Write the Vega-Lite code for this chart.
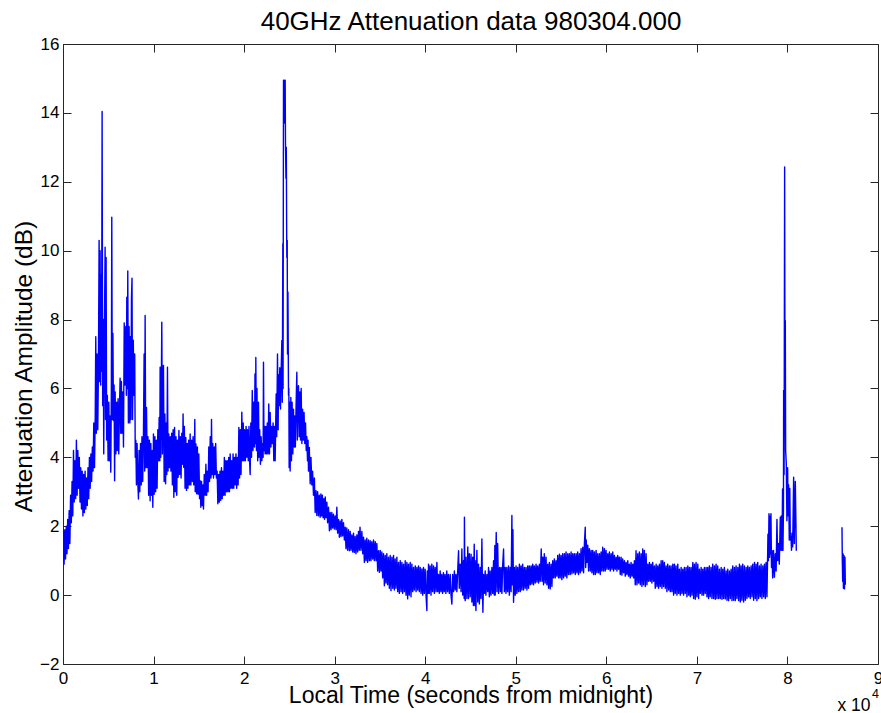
{
"$schema": "https://vega.github.io/schema/vega-lite/v6.json",
"width": 815, "height": 620,
"autosize": {"type": "none"},
"padding": {"left": 63, "top": 44, "right": 3, "bottom": 49},
"background": "white",
"config": {"view": {"stroke": null}, "font": "Liberation Sans", "axis": {"grid": false, "labelFont": "Liberation Sans", "titleFont": "Liberation Sans", "labelColor": "#000", "titleColor": "#000", "titleFontWeight": "normal", "domainColor": "#262626", "tickColor": "#262626", "labelFlush": false, "labelOverlap": false}},
"datasets": {"att": [
{"s":"a","t":0,"v":1.0},{"s":"a","t":60,"v":1.85},{"s":"a","t":120,"v":0.9},{"s":"a","t":200,"v":1.9},{"s":"a","t":280,"v":1.05},{"s":"a","t":360,"v":2.0},{"s":"a","t":440,"v":1.2},{"s":"a","t":520,"v":2.2},{"s":"a","t":600,"v":1.35},{"s":"a","t":680,"v":2.45},{"s":"a","t":760,"v":1.5},{"s":"a","t":840,"v":2.9},{"s":"a","t":920,"v":2.1},{"s":"a","t":1000,"v":3.3},{"s":"a","t":1080,"v":2.3},{"s":"a","t":1160,"v":4.2},{"s":"a","t":1240,"v":2.7},{"s":"a","t":1320,"v":3.9},{"s":"a","t":1400,"v":2.8},{"s":"a","t":1480,"v":4.5},{"s":"a","t":1560,"v":2.9},{"s":"a","t":1640,"v":4.2},{"s":"a","t":1720,"v":3.1},{"s":"a","t":1800,"v":4.0},{"s":"a","t":1880,"v":2.7},{"s":"a","t":1960,"v":3.7},{"s":"a","t":2040,"v":2.5},{"s":"a","t":2120,"v":3.6},{"s":"a","t":2200,"v":2.3},{"s":"a","t":2280,"v":3.5},{"s":"a","t":2360,"v":2.4},{"s":"a","t":2440,"v":3.6},{"s":"a","t":2520,"v":2.5},{"s":"a","t":2600,"v":3.4},{"s":"a","t":2680,"v":2.6},{"s":"a","t":2760,"v":3.7},{"s":"a","t":2840,"v":2.8},{"s":"a","t":2920,"v":4.0},{"s":"a","t":3000,"v":3.1},{"s":"a","t":3080,"v":4.1},{"s":"a","t":3160,"v":3.3},{"s":"a","t":3240,"v":4.3},{"s":"a","t":3320,"v":3.6},{"s":"a","t":3400,"v":5.0},{"s":"a","t":3480,"v":3.7},{"s":"a","t":3560,"v":5.2},{"s":"a","t":3620,"v":7.5},{"s":"a","t":3680,"v":4.7},{"s":"a","t":3760,"v":7.0},{"s":"a","t":3840,"v":4.8},{"s":"a","t":3910,"v":6.5},{"s":"a","t":3988,"v":10.3},{"s":"a","t":4050,"v":6.2},{"s":"a","t":4098,"v":10.0},{"s":"a","t":4160,"v":6.1},{"s":"a","t":4209,"v":9.3},{"s":"a","t":4260,"v":6.5},{"s":"a","t":4319,"v":14.04},{"s":"a","t":4380,"v":5.5},{"s":"a","t":4440,"v":8.0},{"s":"a","t":4500,"v":4.1},{"s":"a","t":4560,"v":7.2},{"s":"a","t":4650,"v":10.1},{"s":"a","t":4700,"v":5.1},{"s":"a","t":4761,"v":9.8},{"s":"a","t":4820,"v":4.5},{"s":"a","t":4900,"v":5.8},{"s":"a","t":4980,"v":3.9},{"s":"a","t":5060,"v":5.6},{"s":"a","t":5140,"v":3.9},{"s":"a","t":5203,"v":5.2},{"s":"a","t":5276,"v":3.57},{"s":"a","t":5340,"v":6.0},{"s":"a","t":5387,"v":10.97},{"s":"a","t":5450,"v":5.1},{"s":"a","t":5510,"v":7.6},{"s":"a","t":5571,"v":5.07},{"s":"a","t":5640,"v":6.1},{"s":"a","t":5700,"v":3.32},{"s":"a","t":5760,"v":5.9},{"s":"a","t":5840,"v":4.1},{"s":"a","t":5920,"v":5.6},{"s":"a","t":6000,"v":4.2},{"s":"a","t":6080,"v":5.7},{"s":"a","t":6160,"v":4.1},{"s":"a","t":6240,"v":5.5},{"s":"a","t":6307,"v":6.3},{"s":"a","t":6380,"v":4.7},{"s":"a","t":6450,"v":6.2},{"s":"a","t":6520,"v":4.7},{"s":"a","t":6600,"v":5.9},{"s":"a","t":6680,"v":4.3},{"s":"a","t":6760,"v":7.9},{"s":"a","t":6850,"v":6.1},{"s":"a","t":6933,"v":7.8},{"s":"a","t":7000,"v":5.8},{"s":"a","t":7044,"v":8.65},{"s":"a","t":7100,"v":6.0},{"s":"a","t":7154,"v":9.41},{"s":"a","t":7220,"v":5.0},{"s":"a","t":7300,"v":7.8},{"s":"a","t":7380,"v":5.0},{"s":"a","t":7450,"v":7.5},{"s":"a","t":7500,"v":5.1},{"s":"a","t":7560,"v":8.6},{"s":"a","t":7620,"v":9.2},{"s":"a","t":7680,"v":5.1},{"s":"a","t":7760,"v":7.4},{"s":"a","t":7840,"v":5.8},{"s":"a","t":7920,"v":7.0},{"s":"a","t":7980,"v":4.0},{"s":"a","t":8040,"v":4.5},{"s":"a","t":8110,"v":3.2},{"s":"a","t":8180,"v":4.4},{"s":"a","t":8260,"v":3.3},{"s":"a","t":8333,"v":2.79},{"s":"a","t":8400,"v":4.2},{"s":"a","t":8480,"v":3.0},{"s":"a","t":8560,"v":4.4},{"s":"a","t":8640,"v":3.2},{"s":"a","t":8720,"v":4.6},{"s":"a","t":8800,"v":3.3},{"s":"a","t":8880,"v":4.5},{"s":"a","t":8958,"v":7.0},{"s":"a","t":9020,"v":3.6},{"s":"a","t":9069,"v":8.12},{"s":"a","t":9140,"v":3.7},{"s":"a","t":9220,"v":5.45},{"s":"a","t":9300,"v":3.7},{"s":"a","t":9380,"v":4.6},{"s":"a","t":9460,"v":2.9},{"s":"a","t":9540,"v":4.5},{"s":"a","t":9620,"v":2.74},{"s":"a","t":9700,"v":4.4},{"s":"a","t":9780,"v":2.9},{"s":"a","t":9860,"v":4.2},{"s":"a","t":9916,"v":2.55},{"s":"a","t":9990,"v":4.68},{"s":"a","t":10070,"v":2.93},{"s":"a","t":10150,"v":4.6},{"s":"a","t":10230,"v":3.0},{"s":"a","t":10310,"v":4.5},{"s":"a","t":10390,"v":3.1},{"s":"a","t":10470,"v":4.8},{"s":"a","t":10542,"v":3.9},{"s":"a","t":10620,"v":5.16},{"s":"a","t":10690,"v":3.9},{"s":"a","t":10726,"v":6.62},{"s":"a","t":10800,"v":4.0},{"s":"a","t":10910,"v":7.92},{"s":"a","t":10980,"v":4.1},{"s":"a","t":11094,"v":6.67},{"s":"a","t":11170,"v":3.3},{"s":"a","t":11250,"v":5.26},{"s":"a","t":11330,"v":3.23},{"s":"a","t":11400,"v":5.0},{"s":"a","t":11460,"v":3.5},{"s":"a","t":11536,"v":6.62},{"s":"a","t":11600,"v":3.6},{"s":"a","t":11680,"v":4.68},{"s":"a","t":11760,"v":3.7},{"s":"a","t":11840,"v":4.6},{"s":"a","t":11920,"v":3.6},{"s":"a","t":12000,"v":4.7},{"s":"a","t":12080,"v":3.2},{"s":"a","t":12160,"v":4.8},{"s":"a","t":12240,"v":2.84},{"s":"a","t":12320,"v":4.87},{"s":"a","t":12400,"v":3.0},{"s":"a","t":12480,"v":4.6},{"s":"a","t":12560,"v":2.9},{"s":"a","t":12640,"v":4.5},{"s":"a","t":12720,"v":3.42},{"s":"a","t":12800,"v":4.78},{"s":"a","t":12880,"v":3.5},{"s":"a","t":12960,"v":4.6},{"s":"a","t":13040,"v":3.4},{"s":"a","t":13120,"v":4.7},{"s":"a","t":13200,"v":3.8},{"s":"a","t":13260,"v":5.26},{"s":"a","t":13330,"v":3.71},{"s":"a","t":13400,"v":4.9},{"s":"a","t":13480,"v":3.1},{"s":"a","t":13560,"v":4.58},{"s":"a","t":13640,"v":3.04},{"s":"a","t":13720,"v":4.4},{"s":"a","t":13800,"v":3.1},{"s":"a","t":13880,"v":4.5},{"s":"a","t":13960,"v":3.2},{"s":"a","t":14040,"v":4.68},{"s":"a","t":14120,"v":3.2},{"s":"a","t":14200,"v":4.5},{"s":"a","t":14280,"v":3.3},{"s":"a","t":14360,"v":4.6},{"s":"a","t":14440,"v":3.2},{"s":"a","t":14520,"v":4.4},{"s":"a","t":14555,"v":5.1},{"s":"a","t":14600,"v":3.0},{"s":"a","t":14680,"v":4.39},{"s":"a","t":14760,"v":2.94},{"s":"a","t":14840,"v":4.3},{"s":"a","t":14920,"v":2.93},{"s":"a","t":15000,"v":4.1},{"s":"a","t":15080,"v":2.8},{"s":"a","t":15145,"v":3.32},{"s":"a","t":15220,"v":2.55},{"s":"a","t":15300,"v":3.3},{"s":"a","t":15380,"v":2.6},{"s":"a","t":15460,"v":3.2},{"s":"a","t":15513,"v":2.5},{"s":"a","t":15600,"v":3.5},{"s":"a","t":15700,"v":2.9},{"s":"a","t":15780,"v":3.8},{"s":"a","t":15860,"v":2.9},{"s":"a","t":15940,"v":3.6},{"s":"a","t":16020,"v":3.0},{"s":"a","t":16100,"v":4.3},{"s":"a","t":16180,"v":3.3},{"s":"a","t":16260,"v":4.6},{"s":"a","t":16340,"v":3.4},{"s":"a","t":16400,"v":5.1},{"s":"a","t":16460,"v":3.5},{"s":"a","t":16540,"v":4.4},{"s":"a","t":16620,"v":3.4},{"s":"a","t":16700,"v":4.3},{"s":"a","t":16780,"v":3.5},{"s":"a","t":16860,"v":4.4},{"s":"a","t":16940,"v":3.4},{"s":"a","t":17020,"v":3.6},{"s":"a","t":17100,"v":2.65},{"s":"a","t":17180,"v":3.5},{"s":"a","t":17260,"v":2.7},{"s":"a","t":17340,"v":3.6},{"s":"a","t":17420,"v":2.75},{"s":"a","t":17500,"v":3.7},{"s":"a","t":17580,"v":2.8},{"s":"a","t":17660,"v":3.6},{"s":"a","t":17740,"v":2.9},{"s":"a","t":17820,"v":4.0},{"s":"a","t":17900,"v":2.9},{"s":"a","t":17980,"v":3.9},{"s":"a","t":18060,"v":3.0},{"s":"a","t":18140,"v":3.9},{"s":"a","t":18220,"v":3.0},{"s":"a","t":18300,"v":4.0},{"s":"a","t":18380,"v":3.0},{"s":"a","t":18460,"v":4.1},{"s":"a","t":18540,"v":3.1},{"s":"a","t":18620,"v":3.9},{"s":"a","t":18700,"v":3.1},{"s":"a","t":18780,"v":4.1},{"s":"a","t":18860,"v":3.1},{"s":"a","t":18940,"v":4.0},{"s":"a","t":19020,"v":3.2},{"s":"a","t":19100,"v":4.1},{"s":"a","t":19180,"v":3.1},{"s":"a","t":19260,"v":4.0},{"s":"a","t":19340,"v":3.2},{"s":"a","t":19420,"v":4.87},{"s":"a","t":19500,"v":3.4},{"s":"a","t":19580,"v":4.8},{"s":"a","t":19660,"v":3.5},{"s":"a","t":19747,"v":5.31},{"s":"a","t":19830,"v":3.9},{"s":"a","t":19900,"v":5.0},{"s":"a","t":19980,"v":3.9},{"s":"a","t":20060,"v":4.8},{"s":"a","t":20140,"v":3.9},{"s":"a","t":20220,"v":4.9},{"s":"a","t":20300,"v":4.0},{"s":"a","t":20380,"v":4.8},{"s":"a","t":20460,"v":3.9},{"s":"a","t":20540,"v":4.9},{"s":"a","t":20620,"v":3.8},{"s":"a","t":20668,"v":3.5},{"s":"a","t":20740,"v":5.0},{"s":"a","t":20820,"v":4.0},{"s":"a","t":20900,"v":5.94},{"s":"a","t":20980,"v":4.2},{"s":"a","t":21060,"v":5.6},{"s":"a","t":21146,"v":4.3},{"s":"a","t":21200,"v":6.42},{"s":"a","t":21260,"v":4.4},{"s":"a","t":21293,"v":6.9},{"s":"a","t":21360,"v":4.2},{"s":"a","t":21420,"v":6.0},{"s":"a","t":21500,"v":3.9},{"s":"a","t":21588,"v":5.6},{"s":"a","t":21650,"v":4.0},{"s":"a","t":21720,"v":4.8},{"s":"a","t":21800,"v":3.8},{"s":"a","t":21880,"v":4.6},{"s":"a","t":21960,"v":3.9},{"s":"a","t":22040,"v":4.4},{"s":"a","t":22100,"v":4.0},{"s":"a","t":22140,"v":6.76},{"s":"a","t":22200,"v":4.2},{"s":"a","t":22260,"v":4.9},{"s":"a","t":22320,"v":4.1},{"s":"a","t":22400,"v":4.9},{"s":"a","t":22480,"v":4.1},{"s":"a","t":22560,"v":5.0},{"s":"a","t":22640,"v":4.1},{"s":"a","t":22720,"v":5.55},{"s":"a","t":22800,"v":4.1},{"s":"a","t":22877,"v":5.3},{"s":"a","t":22960,"v":4.3},{"s":"a","t":23040,"v":4.9},{"s":"a","t":23120,"v":4.4},{"s":"a","t":23200,"v":5.0},{"s":"a","t":23280,"v":3.9},{"s":"a","t":23360,"v":4.9},{"s":"a","t":23429,"v":3.9},{"s":"a","t":23540,"v":5.84},{"s":"a","t":23600,"v":4.6},{"s":"a","t":23687,"v":7.0},{"s":"a","t":23760,"v":4.8},{"s":"a","t":23797,"v":6.4},{"s":"a","t":23860,"v":5.5},{"s":"a","t":23940,"v":6.6},{"s":"a","t":24020,"v":5.4},{"s":"a","t":24100,"v":6.6},{"s":"a","t":24166,"v":7.39},{"s":"a","t":24220,"v":5.6},{"s":"a","t":24276,"v":10.2},{"s":"a","t":24300,"v":6.0},{"s":"a","t":24350,"v":14.95},{"s":"a","t":24400,"v":13.8},{"s":"a","t":24450,"v":14.95},{"s":"a","t":24500,"v":13.7},{"s":"a","t":24534,"v":14.95},{"s":"a","t":24570,"v":13.1},{"s":"a","t":24620,"v":12.1},{"s":"a","t":24660,"v":13.0},{"s":"a","t":24700,"v":10.5},{"s":"a","t":24718,"v":9.8},{"s":"a","t":24760,"v":10.3},{"s":"a","t":24792,"v":7.0},{"s":"a","t":24840,"v":8.8},{"s":"a","t":24902,"v":5.8},{"s":"a","t":24940,"v":6.0},{"s":"a","t":24976,"v":3.7},{"s":"a","t":25030,"v":5.6},{"s":"a","t":25085,"v":3.6},{"s":"a","t":25160,"v":5.74},{"s":"a","t":25230,"v":3.9},{"s":"a","t":25300,"v":5.6},{"s":"a","t":25380,"v":4.1},{"s":"a","t":25454,"v":5.4},{"s":"a","t":25530,"v":4.3},{"s":"a","t":25600,"v":5.2},{"s":"a","t":25660,"v":4.3},{"s":"a","t":25740,"v":5.5},{"s":"a","t":25822,"v":6.47},{"s":"a","t":25880,"v":4.5},{"s":"a","t":25940,"v":5.9},{"s":"a","t":26005,"v":6.08},{"s":"a","t":26080,"v":4.6},{"s":"a","t":26160,"v":5.9},{"s":"a","t":26230,"v":4.5},{"s":"a","t":26300,"v":6.0},{"s":"a","t":26380,"v":4.4},{"s":"a","t":26460,"v":5.4},{"s":"a","t":26540,"v":4.5},{"s":"a","t":26620,"v":5.3},{"s":"a","t":26700,"v":4.4},{"s":"a","t":26780,"v":5.0},{"s":"a","t":26860,"v":4.2},{"s":"a","t":26927,"v":4.6},{"s":"a","t":27000,"v":3.9},{"s":"a","t":27060,"v":4.5},{"s":"a","t":27111,"v":3.6},{"s":"a","t":27200,"v":4.29},{"s":"a","t":27295,"v":3.23},{"s":"a","t":27380,"v":4.0},{"s":"a","t":27479,"v":3.2},{"s":"a","t":27560,"v":3.6},{"s":"a","t":27663,"v":2.9},{"s":"a","t":27760,"v":3.4},{"s":"a","t":27847,"v":2.4},{"s":"a","t":27940,"v":3.03},{"s":"a","t":28032,"v":2.31},{"s":"a","t":28120,"v":3.0},{"s":"a","t":28215,"v":2.3},{"s":"a","t":28300,"v":2.9},{"s":"a","t":28400,"v":2.26},{"s":"a","t":28480,"v":2.94},{"s":"a","t":28560,"v":2.3},{"s":"a","t":28640,"v":2.9},{"s":"a","t":28720,"v":2.25},{"s":"a","t":28800,"v":2.8},{"s":"a","t":28880,"v":2.2},{"s":"a","t":28960,"v":2.85},{"s":"a","t":29040,"v":2.25},{"s":"a","t":29136,"v":2.7},{"s":"a","t":29220,"v":2.1},{"s":"a","t":29320,"v":2.55},{"s":"a","t":29420,"v":1.87},{"s":"a","t":29505,"v":2.4},{"s":"a","t":29600,"v":1.9},{"s":"a","t":29689,"v":2.4},{"s":"a","t":29780,"v":1.95},{"s":"a","t":29870,"v":2.35},{"s":"a","t":29960,"v":1.92},{"s":"a","t":30057,"v":2.3},{"s":"a","t":30150,"v":1.9},{"s":"a","t":30241,"v":2.55},{"s":"a","t":30330,"v":1.8},{"s":"a","t":30425,"v":2.2},{"s":"a","t":30520,"v":1.68},{"s":"a","t":30610,"v":2.15},{"s":"a","t":30700,"v":1.7},{"s":"a","t":30793,"v":2.2},{"s":"a","t":30880,"v":1.72},{"s":"a","t":30977,"v":2.1},{"s":"a","t":31070,"v":1.6},{"s":"a","t":31162,"v":1.97},{"s":"a","t":31250,"v":1.35},{"s":"a","t":31340,"v":1.95},{"s":"a","t":31430,"v":1.3},{"s":"a","t":31530,"v":1.9},{"s":"a","t":31620,"v":1.29},{"s":"a","t":31714,"v":1.85},{"s":"a","t":31800,"v":1.3},{"s":"a","t":31898,"v":1.75},{"s":"a","t":31990,"v":1.25},{"s":"a","t":32080,"v":1.8},{"s":"a","t":32170,"v":1.24},{"s":"a","t":32260,"v":1.7},{"s":"a","t":32350,"v":1.2},{"s":"a","t":32450,"v":1.75},{"s":"a","t":32540,"v":1.25},{"s":"a","t":32634,"v":1.85},{"s":"a","t":32720,"v":1.3},{"s":"a","t":32800,"v":1.97},{"s":"a","t":32900,"v":1.3},{"s":"a","t":33003,"v":1.85},{"s":"a","t":33100,"v":1.2},{"s":"a","t":33187,"v":1.68},{"s":"a","t":33280,"v":0.95},{"s":"a","t":33370,"v":1.6},{"s":"a","t":33460,"v":1.0},{"s":"a","t":33550,"v":1.65},{"s":"a","t":33640,"v":0.95},{"s":"a","t":33739,"v":1.6},{"s":"a","t":33830,"v":1.0},{"s":"a","t":33923,"v":1.58},{"s":"a","t":34010,"v":1.0},{"s":"a","t":34100,"v":1.55},{"s":"a","t":34200,"v":1.05},{"s":"a","t":34290,"v":1.6},{"s":"a","t":34380,"v":1.0},{"s":"a","t":34480,"v":1.55},{"s":"a","t":34570,"v":1.0},{"s":"a","t":34659,"v":1.5},{"s":"a","t":34750,"v":0.7},{"s":"a","t":34844,"v":1.29},{"s":"a","t":34940,"v":0.66},{"s":"a","t":35030,"v":1.3},{"s":"a","t":35120,"v":0.7},{"s":"a","t":35212,"v":1.25},{"s":"a","t":35300,"v":0.5},{"s":"a","t":35396,"v":1.2},{"s":"a","t":35490,"v":0.27},{"s":"a","t":35580,"v":1.15},{"s":"a","t":35670,"v":0.35},{"s":"a","t":35760,"v":1.2},{"s":"a","t":35850,"v":0.3},{"s":"a","t":35948,"v":1.1},{"s":"a","t":36040,"v":0.2},{"s":"a","t":36132,"v":1.15},{"s":"a","t":36220,"v":0.13},{"s":"a","t":36320,"v":1.1},{"s":"a","t":36410,"v":0.2},{"s":"a","t":36500,"v":1.15},{"s":"a","t":36590,"v":0.15},{"s":"a","t":36680,"v":1.05},{"s":"a","t":36770,"v":0.2},{"s":"a","t":36869,"v":1.1},{"s":"a","t":36960,"v":0.1},{"s":"a","t":37053,"v":0.95},{"s":"a","t":37140,"v":0.05},{"s":"a","t":37240,"v":1.0},{"s":"a","t":37330,"v":0.1},{"s":"a","t":37420,"v":0.95},{"s":"a","t":37510,"v":0.05},{"s":"a","t":37600,"v":0.9},{"s":"a","t":37700,"v":0.1},{"s":"a","t":37789,"v":1.0},{"s":"a","t":37880,"v":0.0},{"s":"a","t":37973,"v":0.95},{"s":"a","t":38060,"v":-0.11},{"s":"a","t":38150,"v":0.9},{"s":"a","t":38240,"v":0.0},{"s":"a","t":38340,"v":0.95},{"s":"a","t":38430,"v":-0.05},{"s":"a","t":38526,"v":0.9},{"s":"a","t":38620,"v":0.1},{"s":"a","t":38710,"v":0.8},{"s":"a","t":38800,"v":0.15},{"s":"a","t":38900,"v":0.85},{"s":"a","t":38990,"v":0.1},{"s":"a","t":39080,"v":0.8},{"s":"a","t":39170,"v":0.15},{"s":"a","t":39260,"v":0.85},{"s":"a","t":39350,"v":0.1},{"s":"a","t":39446,"v":0.8},{"s":"a","t":39540,"v":0.05},{"s":"a","t":39630,"v":0.76},{"s":"a","t":39720,"v":0.0},{"s":"a","t":39810,"v":0.8},{"s":"a","t":39900,"v":0.05},{"s":"a","t":39990,"v":0.75},{"s":"a","t":40090,"v":0.0},{"s":"a","t":40182,"v":-0.45},{"s":"a","t":40220,"v":0.7},{"s":"a","t":40300,"v":0.05},{"s":"a","t":40367,"v":0.9},{"s":"a","t":40450,"v":0.05},{"s":"a","t":40540,"v":0.85},{"s":"a","t":40640,"v":0.0},{"s":"a","t":40730,"v":0.9},{"s":"a","t":40820,"v":0.1},{"s":"a","t":40920,"v":0.85},{"s":"a","t":41010,"v":0.05},{"s":"a","t":41103,"v":0.8},{"s":"a","t":41200,"v":0.1},{"s":"a","t":41287,"v":0.95},{"s":"a","t":41380,"v":0.1},{"s":"a","t":41471,"v":0.6},{"s":"a","t":41560,"v":0.05},{"s":"a","t":41650,"v":0.7},{"s":"a","t":41740,"v":0.1},{"s":"a","t":41830,"v":0.6},{"s":"a","t":41920,"v":0.05},{"s":"a","t":42010,"v":0.65},{"s":"a","t":42100,"v":0.1},{"s":"a","t":42190,"v":0.6},{"s":"a","t":42280,"v":0.05},{"s":"a","t":42380,"v":0.7},{"s":"a","t":42470,"v":0.1},{"s":"a","t":42560,"v":0.6},{"s":"a","t":42660,"v":0.05},{"s":"a","t":42760,"v":0.6},{"s":"a","t":42850,"v":0.0},{"s":"a","t":42943,"v":-0.26},{"s":"a","t":43030,"v":0.6},{"s":"a","t":43128,"v":0.1},{"s":"a","t":43220,"v":0.7},{"s":"a","t":43310,"v":0.15},{"s":"a","t":43400,"v":0.6},{"s":"a","t":43496,"v":0.1},{"s":"a","t":43600,"v":0.8},{"s":"a","t":43680,"v":1.29},{"s":"a","t":43760,"v":0.2},{"s":"a","t":43860,"v":0.9},{"s":"a","t":43960,"v":0.1},{"s":"a","t":44048,"v":1.34},{"s":"a","t":44140,"v":0.0},{"s":"a","t":44233,"v":1.0},{"s":"a","t":44300,"v":-0.1},{"s":"a","t":44330,"v":2.26},{"s":"a","t":44380,"v":0.2},{"s":"a","t":44417,"v":-0.16},{"s":"a","t":44500,"v":1.1},{"s":"a","t":44601,"v":-0.1},{"s":"a","t":44700,"v":1.4},{"s":"a","t":44780,"v":-0.1},{"s":"a","t":44870,"v":1.2},{"s":"a","t":44969,"v":-0.05},{"s":"a","t":45060,"v":1.19},{"s":"a","t":45153,"v":-0.2},{"s":"a","t":45240,"v":1.1},{"s":"a","t":45320,"v":-0.3},{"s":"a","t":45411,"v":1.48},{"s":"a","t":45480,"v":-0.3},{"s":"a","t":45521,"v":1.0},{"s":"a","t":45600,"v":-0.45},{"s":"a","t":45705,"v":1.3},{"s":"a","t":45800,"v":-0.2},{"s":"a","t":45889,"v":0.9},{"s":"a","t":45980,"v":-0.26},{"s":"a","t":46074,"v":0.8},{"s":"a","t":46160,"v":-0.1},{"s":"a","t":46258,"v":1.63},{"s":"a","t":46320,"v":0.2},{"s":"a","t":46368,"v":-0.5},{"s":"a","t":46442,"v":0.6},{"s":"a","t":46530,"v":0.05},{"s":"a","t":46620,"v":0.7},{"s":"a","t":46700,"v":0.0},{"s":"a","t":46810,"v":0.6},{"s":"a","t":46900,"v":0.1},{"s":"a","t":46994,"v":0.8},{"s":"a","t":47080,"v":-0.05},{"s":"a","t":47170,"v":0.7},{"s":"a","t":47260,"v":0.0},{"s":"a","t":47362,"v":0.8},{"s":"a","t":47450,"v":0.05},{"s":"a","t":47546,"v":1.0},{"s":"a","t":47620,"v":0.0},{"s":"a","t":47690,"v":1.44},{"s":"a","t":47730,"v":0.0},{"s":"a","t":47841,"v":1.82},{"s":"a","t":47920,"v":0.1},{"s":"a","t":48000,"v":1.5},{"s":"a","t":48099,"v":0.05},{"s":"a","t":48209,"v":0.8},{"s":"a","t":48300,"v":0.1},{"s":"a","t":48380,"v":0.8},{"s":"a","t":48467,"v":0.05},{"s":"a","t":48560,"v":0.9},{"s":"a","t":48651,"v":1.34},{"s":"a","t":48740,"v":0.1},{"s":"a","t":48835,"v":0.8},{"s":"a","t":48920,"v":0.05},{"s":"a","t":49010,"v":0.8},{"s":"a","t":49100,"v":0.1},{"s":"a","t":49200,"v":0.85},{"s":"a","t":49290,"v":0.0},{"s":"a","t":49387,"v":0.8},{"s":"a","t":49480,"v":0.1},{"s":"a","t":49571,"v":2.31},{"s":"a","t":49630,"v":0.3},{"s":"a","t":49682,"v":1.9},{"s":"a","t":49755,"v":-0.21},{"s":"a","t":49850,"v":0.8},{"s":"a","t":49940,"v":0.0},{"s":"a","t":50030,"v":0.85},{"s":"a","t":50120,"v":0.05},{"s":"a","t":50210,"v":0.8},{"s":"a","t":50308,"v":0.1},{"s":"a","t":50400,"v":0.9},{"s":"a","t":50492,"v":0.1},{"s":"a","t":50580,"v":0.85},{"s":"a","t":50670,"v":0.15},{"s":"a","t":50760,"v":0.9},{"s":"a","t":50860,"v":0.15},{"s":"a","t":50950,"v":0.8},{"s":"a","t":51045,"v":0.2},{"s":"a","t":51130,"v":0.8},{"s":"a","t":51230,"v":0.15},{"s":"a","t":51320,"v":0.85},{"s":"a","t":51413,"v":0.2},{"s":"a","t":51500,"v":0.85},{"s":"a","t":51597,"v":0.3},{"s":"a","t":51690,"v":0.85},{"s":"a","t":51780,"v":0.32},{"s":"a","t":51870,"v":0.9},{"s":"a","t":51960,"v":0.3},{"s":"a","t":52050,"v":0.85},{"s":"a","t":52149,"v":0.35},{"s":"a","t":52240,"v":0.9},{"s":"a","t":52333,"v":0.38},{"s":"a","t":52420,"v":0.85},{"s":"a","t":52520,"v":0.35},{"s":"a","t":52610,"v":0.9},{"s":"a","t":52701,"v":0.4},{"s":"a","t":52811,"v":1.34},{"s":"a","t":52900,"v":0.4},{"s":"a","t":52980,"v":1.1},{"s":"a","t":53063,"v":0.3},{"s":"a","t":53150,"v":1.2},{"s":"a","t":53250,"v":0.35},{"s":"a","t":53340,"v":1.1},{"s":"a","t":53437,"v":0.3},{"s":"a","t":53530,"v":0.9},{"s":"a","t":53621,"v":0.2},{"s":"a","t":53710,"v":0.95},{"s":"a","t":53800,"v":0.18},{"s":"a","t":53900,"v":0.9},{"s":"a","t":53990,"v":0.25},{"s":"a","t":54080,"v":1.0},{"s":"a","t":54174,"v":0.5},{"s":"a","t":54260,"v":1.05},{"s":"a","t":54360,"v":0.5},{"s":"a","t":54450,"v":1.0},{"s":"a","t":54542,"v":0.55},{"s":"a","t":54630,"v":1.15},{"s":"a","t":54726,"v":0.5},{"s":"a","t":54820,"v":1.19},{"s":"a","t":54900,"v":0.5},{"s":"a","t":55000,"v":1.15},{"s":"a","t":55090,"v":0.45},{"s":"a","t":55180,"v":1.2},{"s":"a","t":55279,"v":0.5},{"s":"a","t":55370,"v":1.2},{"s":"a","t":55463,"v":0.55},{"s":"a","t":55550,"v":1.25},{"s":"a","t":55640,"v":0.5},{"s":"a","t":55740,"v":1.2},{"s":"a","t":55831,"v":0.6},{"s":"a","t":55920,"v":1.2},{"s":"a","t":56015,"v":0.6},{"s":"a","t":56110,"v":1.25},{"s":"a","t":56200,"v":0.62},{"s":"a","t":56290,"v":1.2},{"s":"a","t":56383,"v":0.65},{"s":"a","t":56470,"v":1.2},{"s":"a","t":56567,"v":0.6},{"s":"a","t":56660,"v":1.2},{"s":"a","t":56750,"v":0.65},{"s":"a","t":56840,"v":1.25},{"s":"a","t":56930,"v":0.6},{"s":"a","t":57030,"v":1.2},{"s":"a","t":57120,"v":0.65},{"s":"a","t":57210,"v":1.35},{"s":"a","t":57304,"v":0.7},{"s":"a","t":57400,"v":1.39},{"s":"a","t":57488,"v":0.65},{"s":"a","t":57580,"v":1.5},{"s":"a","t":57672,"v":1.97},{"s":"a","t":57720,"v":0.8},{"s":"a","t":57780,"v":1.6},{"s":"a","t":57856,"v":0.95},{"s":"a","t":57950,"v":1.45},{"s":"a","t":58040,"v":0.7},{"s":"a","t":58130,"v":1.35},{"s":"a","t":58230,"v":0.7},{"s":"a","t":58320,"v":1.3},{"s":"a","t":58409,"v":0.65},{"s":"a","t":58500,"v":1.3},{"s":"a","t":58593,"v":0.6},{"s":"a","t":58680,"v":1.25},{"s":"a","t":58780,"v":0.6},{"s":"a","t":58870,"v":1.3},{"s":"a","t":58961,"v":0.65},{"s":"a","t":59050,"v":1.2},{"s":"a","t":59145,"v":0.65},{"s":"a","t":59240,"v":1.2},{"s":"a","t":59330,"v":0.6},{"s":"a","t":59420,"v":1.25},{"s":"a","t":59514,"v":0.7},{"s":"a","t":59600,"v":1.39},{"s":"a","t":59698,"v":0.7},{"s":"a","t":59790,"v":1.35},{"s":"a","t":59880,"v":0.7},{"s":"a","t":59970,"v":1.3},{"s":"a","t":60066,"v":0.75},{"s":"a","t":60160,"v":1.2},{"s":"a","t":60250,"v":0.75},{"s":"a","t":60340,"v":1.25},{"s":"a","t":60430,"v":0.7},{"s":"a","t":60530,"v":1.2},{"s":"a","t":60620,"v":0.75},{"s":"a","t":60710,"v":1.25},{"s":"a","t":60802,"v":0.7},{"s":"a","t":60890,"v":1.15},{"s":"a","t":60986,"v":0.75},{"s":"a","t":61080,"v":1.1},{"s":"a","t":61170,"v":0.7},{"s":"a","t":61260,"v":1.15},{"s":"a","t":61350,"v":0.75},{"s":"a","t":61440,"v":1.1},{"s":"a","t":61538,"v":0.6},{"s":"a","t":61630,"v":1.1},{"s":"a","t":61720,"v":0.58},{"s":"a","t":61810,"v":1.05},{"s":"a","t":61905,"v":0.65},{"s":"a","t":62000,"v":1.0},{"s":"a","t":62089,"v":0.55},{"s":"a","t":62180,"v":0.95},{"s":"a","t":62270,"v":0.6},{"s":"a","t":62370,"v":1.0},{"s":"a","t":62458,"v":0.55},{"s":"a","t":62550,"v":0.9},{"s":"a","t":62642,"v":0.5},{"s":"a","t":62730,"v":0.95},{"s":"a","t":62830,"v":0.55},{"s":"a","t":62920,"v":0.9},{"s":"a","t":63010,"v":0.5},{"s":"a","t":63100,"v":1.0},{"s":"a","t":63194,"v":0.3},{"s":"a","t":63280,"v":1.29},{"s":"a","t":63380,"v":0.3},{"s":"a","t":63470,"v":1.2},{"s":"a","t":63560,"v":0.35},{"s":"a","t":63650,"v":1.25},{"s":"a","t":63746,"v":0.3},{"s":"a","t":63840,"v":1.2},{"s":"a","t":63930,"v":0.25},{"s":"a","t":64020,"v":1.34},{"s":"a","t":64110,"v":0.3},{"s":"a","t":64200,"v":1.3},{"s":"a","t":64300,"v":0.25},{"s":"a","t":64390,"v":1.2},{"s":"a","t":64483,"v":0.3},{"s":"a","t":64580,"v":0.9},{"s":"a","t":64667,"v":0.4},{"s":"a","t":64760,"v":0.95},{"s":"a","t":64850,"v":0.4},{"s":"a","t":64940,"v":0.9},{"s":"a","t":65030,"v":0.35},{"s":"a","t":65120,"v":0.95},{"s":"a","t":65219,"v":0.4},{"s":"a","t":65310,"v":0.85},{"s":"a","t":65403,"v":0.2},{"s":"a","t":65500,"v":0.9},{"s":"a","t":65590,"v":0.25},{"s":"a","t":65680,"v":0.85},{"s":"a","t":65770,"v":0.2},{"s":"a","t":65860,"v":0.9},{"s":"a","t":65955,"v":0.25},{"s":"a","t":66050,"v":1.0},{"s":"a","t":66140,"v":0.2},{"s":"a","t":66230,"v":1.0},{"s":"a","t":66320,"v":0.25},{"s":"a","t":66410,"v":0.95},{"s":"a","t":66508,"v":0.2},{"s":"a","t":66600,"v":0.85},{"s":"a","t":66692,"v":0.1},{"s":"a","t":66780,"v":0.9},{"s":"a","t":66880,"v":0.15},{"s":"a","t":66970,"v":0.85},{"s":"a","t":67060,"v":0.1},{"s":"a","t":67150,"v":0.85},{"s":"a","t":67244,"v":0.1},{"s":"a","t":67340,"v":0.9},{"s":"a","t":67428,"v":0.0},{"s":"a","t":67520,"v":0.9},{"s":"a","t":67610,"v":0.05},{"s":"a","t":67700,"v":0.85},{"s":"a","t":67800,"v":0.0},{"s":"a","t":67890,"v":0.9},{"s":"a","t":67981,"v":0.05},{"s":"a","t":68070,"v":0.75},{"s":"a","t":68165,"v":0.0},{"s":"a","t":68260,"v":0.8},{"s":"a","t":68350,"v":0.05},{"s":"a","t":68440,"v":0.75},{"s":"a","t":68530,"v":0.0},{"s":"a","t":68620,"v":0.8},{"s":"a","t":68717,"v":0.05},{"s":"a","t":68810,"v":0.8},{"s":"a","t":68901,"v":-0.05},{"s":"a","t":69000,"v":0.85},{"s":"a","t":69090,"v":0.0},{"s":"a","t":69180,"v":0.8},{"s":"a","t":69270,"v":-0.05},{"s":"a","t":69360,"v":0.8},{"s":"a","t":69453,"v":0.0},{"s":"a","t":69550,"v":0.95},{"s":"a","t":69637,"v":-0.1},{"s":"a","t":69730,"v":0.9},{"s":"a","t":69820,"v":-0.12},{"s":"a","t":69910,"v":0.95},{"s":"a","t":70000,"v":-0.05},{"s":"a","t":70100,"v":0.9},{"s":"a","t":70190,"v":-0.1},{"s":"a","t":70280,"v":0.75},{"s":"a","t":70374,"v":0.05},{"s":"a","t":70470,"v":0.8},{"s":"a","t":70560,"v":0.0},{"s":"a","t":70650,"v":0.75},{"s":"a","t":70740,"v":0.0},{"s":"a","t":70830,"v":0.8},{"s":"a","t":70926,"v":0.05},{"s":"a","t":71020,"v":0.8},{"s":"a","t":71110,"v":-0.05},{"s":"a","t":71200,"v":0.8},{"s":"a","t":71290,"v":-0.1},{"s":"a","t":71380,"v":0.85},{"s":"a","t":71470,"v":-0.05},{"s":"a","t":71570,"v":0.8},{"s":"a","t":71662,"v":-0.1},{"s":"a","t":71750,"v":0.9},{"s":"a","t":71847,"v":-0.1},{"s":"a","t":71940,"v":0.85},{"s":"a","t":72030,"v":-0.12},{"s":"a","t":72120,"v":0.9},{"s":"a","t":72210,"v":-0.1},{"s":"a","t":72300,"v":0.85},{"s":"a","t":72399,"v":-0.1},{"s":"a","t":72490,"v":0.75},{"s":"a","t":72583,"v":-0.1},{"s":"a","t":72680,"v":0.8},{"s":"a","t":72770,"v":-0.12},{"s":"a","t":72860,"v":0.75},{"s":"a","t":72950,"v":-0.1},{"s":"a","t":73040,"v":0.8},{"s":"a","t":73135,"v":-0.11},{"s":"a","t":73230,"v":0.7},{"s":"a","t":73320,"v":-0.15},{"s":"a","t":73410,"v":0.75},{"s":"a","t":73500,"v":-0.16},{"s":"a","t":73600,"v":0.7},{"s":"a","t":73690,"v":-0.1},{"s":"a","t":73780,"v":0.75},{"s":"a","t":73872,"v":-0.16},{"s":"a","t":73960,"v":0.85},{"s":"a","t":74056,"v":-0.15},{"s":"a","t":74150,"v":0.8},{"s":"a","t":74240,"v":-0.16},{"s":"a","t":74330,"v":0.85},{"s":"a","t":74420,"v":-0.1},{"s":"a","t":74520,"v":0.8},{"s":"a","t":74608,"v":-0.16},{"s":"a","t":74700,"v":0.9},{"s":"a","t":74793,"v":-0.2},{"s":"a","t":74880,"v":0.85},{"s":"a","t":74970,"v":-0.15},{"s":"a","t":75060,"v":0.9},{"s":"a","t":75160,"v":-0.2},{"s":"a","t":75250,"v":0.85},{"s":"a","t":75345,"v":-0.15},{"s":"a","t":75440,"v":0.8},{"s":"a","t":75529,"v":-0.1},{"s":"a","t":75620,"v":0.85},{"s":"a","t":75710,"v":-0.05},{"s":"a","t":75800,"v":0.8},{"s":"a","t":75890,"v":-0.1},{"s":"a","t":75990,"v":0.85},{"s":"a","t":76081,"v":-0.05},{"s":"a","t":76170,"v":0.9},{"s":"a","t":76265,"v":-0.15},{"s":"a","t":76360,"v":0.95},{"s":"a","t":76450,"v":-0.1},{"s":"a","t":76540,"v":0.9},{"s":"a","t":76630,"v":-0.16},{"s":"a","t":76720,"v":0.95},{"s":"a","t":76818,"v":-0.1},{"s":"a","t":76910,"v":0.85},{"s":"a","t":77002,"v":-0.05},{"s":"a","t":77090,"v":0.9},{"s":"a","t":77180,"v":-0.1},{"s":"a","t":77280,"v":0.85},{"s":"a","t":77370,"v":-0.05},{"s":"a","t":77460,"v":0.9},{"s":"a","t":77550,"v":-0.1},{"s":"a","t":77640,"v":0.95},{"s":"a","t":77738,"v":-0.05},{"s":"a","t":77848,"v":1.77},{"s":"a","t":77900,"v":1.0},{"s":"a","t":77960,"v":2.36},{"s":"a","t":78030,"v":1.1},{"s":"a","t":78106,"v":2.3},{"s":"a","t":78140,"v":1.2},{"s":"a","t":78180,"v":2.36},{"s":"a","t":78240,"v":0.8},{"s":"a","t":78290,"v":1.3},{"s":"a","t":78370,"v":0.5},{"s":"a","t":78460,"v":1.3},{"s":"a","t":78560,"v":0.52},{"s":"a","t":78659,"v":1.2},{"s":"a","t":78750,"v":0.7},{"s":"a","t":78843,"v":2.2},{"s":"a","t":78920,"v":1.0},{"s":"a","t":79000,"v":1.5},{"s":"a","t":79100,"v":0.9},{"s":"a","t":79211,"v":2.26},{"s":"a","t":79280,"v":1.3},{"s":"a","t":79322,"v":2.3},{"s":"a","t":79400,"v":1.3},{"s":"a","t":79460,"v":3.08},{"s":"a","t":79506,"v":1.3},{"s":"a","t":79560,"v":2.5},{"s":"a","t":79580,"v":5.94},{"s":"a","t":79630,"v":3.5},{"s":"a","t":79690,"v":12.43},{"s":"a","t":79730,"v":6.0},{"s":"a","t":79764,"v":7.97},{"s":"a","t":79800,"v":4.2},{"s":"a","t":79874,"v":3.81},{"s":"a","t":79940,"v":2.16},{"s":"a","t":80021,"v":3.7},{"s":"a","t":80080,"v":2.3},{"s":"a","t":80131,"v":3.2},{"s":"a","t":80200,"v":1.6},{"s":"a","t":80260,"v":3.1},{"s":"a","t":80316,"v":1.6},{"s":"a","t":80390,"v":1.7},{"s":"a","t":80450,"v":1.3},{"s":"a","t":80500,"v":1.8},{"s":"a","t":80580,"v":1.4},{"s":"a","t":80684,"v":3.42},{"s":"a","t":80760,"v":1.5},{"s":"a","t":80868,"v":3.3},{"s":"a","t":80920,"v":2.4},{"s":"a","t":80979,"v":1.29},
{"s":"b","t":86023,"v":1.97},{"s":"b","t":86060,"v":1.0},{"s":"b","t":86100,"v":0.4},{"s":"b","t":86133,"v":1.2},{"s":"b","t":86180,"v":0.2},{"s":"b","t":86240,"v":1.15},{"s":"b","t":86300,"v":0.18},{"s":"b","t":86350,"v":1.1},{"s":"b","t":86392,"v":0.3}
]},
"layer": [
{"data": {"name": "att"},
 "mark": {"type": "line", "color": "#0000ff", "strokeWidth": 1.4, "strokeJoin": "round", "clip": true},
 "encoding": {
  "x": {"field": "t", "type": "quantitative", "scale": {"domain": [0, 90000], "nice": false, "zero": false},
   "axis": {"orient": "bottom", "values": [0,10000,20000,30000,40000,50000,60000,70000,80000,90000], "labelExpr": "datum.value/10000", "ticks": false, "labelPadding": 6, "labelFontSize": 17, "labelBaseline": "top", "domain": true, "title": "Local Time (seconds from midnight)", "titleFontSize": 23, "titleBaseline": "alphabetic", "titleAlign": "center", "titleX": 407.5, "titleY": 38.5}},
  "y": {"field": "v", "type": "quantitative", "scale": {"domain": [-2, 16], "nice": false, "zero": false},
   "axis": {"orient": "left", "values": [-2,0,2,4,6,8,10,12,14,16], "ticks": false, "labelPadding": 4, "labelFontSize": 17, "labelBaseline": "middle", "domain": true, "title": "Attenuation Amplitude (dB)", "titleFontSize": 24.5, "titleAngle": 270, "titleBaseline": "alphabetic", "titleAlign": "center", "titleX": -32, "titleY": 322}},
  "detail": {"field": "s", "type": "nominal"}
 }},
{"data": {"values": []},
 "mark": {"type": "line"},
 "encoding": {
  "x": {"field": "t", "type": "quantitative", "scale": {"domain": [0, 90000], "nice": false, "zero": false},
   "axis": {"orient": "top", "values": [0,10000,20000,30000,40000,50000,60000,70000,80000,90000], "labels": false, "ticks": true, "tickSize": -8, "domain": true, "title": "40GHz Attenuation data 980304.000", "titleFontSize": 26, "titleAlign": "center", "titleBaseline": "alphabetic", "titleX": 407.5, "titleY": -14.5}},
  "y": {"field": "v", "type": "quantitative", "scale": {"domain": [-2, 16], "nice": false, "zero": false},
   "axis": {"orient": "right", "values": [-2,0,2,4,6,8,10,12,14,16], "labels": false, "ticks": true, "tickSize": -8, "domain": true, "title": null}}
 }},
{"data": {"values": []},
 "mark": {"type": "line"},
 "encoding": {
  "x": {"field": "t", "type": "quantitative", "scale": {"domain": [0, 90000], "nice": false, "zero": false},
   "axis": {"orient": "bottom", "values": [0,10000,20000,30000,40000,50000,60000,70000,80000,90000], "labels": false, "ticks": true, "tickSize": -8, "domain": false, "title": "x 10", "titleFontSize": 17.5, "titleAlign": "right", "titleBaseline": "alphabetic", "titleX": 807, "titleY": 46}},
  "y": {"field": "v", "type": "quantitative", "scale": {"domain": [-2, 16], "nice": false, "zero": false},
   "axis": {"orient": "left", "values": [-2,0,2,4,6,8,10,12,14,16], "labels": false, "ticks": true, "tickSize": -8, "domain": false, "title": null}}
 }},
{"data": {"values": []},
 "mark": {"type": "line"},
 "encoding": {
  "x": {"field": "t", "type": "quantitative", "scale": {"domain": [0, 90000], "nice": false, "zero": false},
   "axis": {"orient": "bottom", "labels": false, "ticks": false, "domain": false, "title": "4", "titleFontSize": 12.5, "titleAlign": "left", "titleBaseline": "alphabetic", "titleX": 808.5, "titleY": 33}},
  "y": {"field": "v", "type": "quantitative", "scale": {"domain": [-2, 16], "nice": false, "zero": false}, "axis": null}
 }}
],
"resolve": {"axis": {"x": "independent", "y": "independent"}}
}
